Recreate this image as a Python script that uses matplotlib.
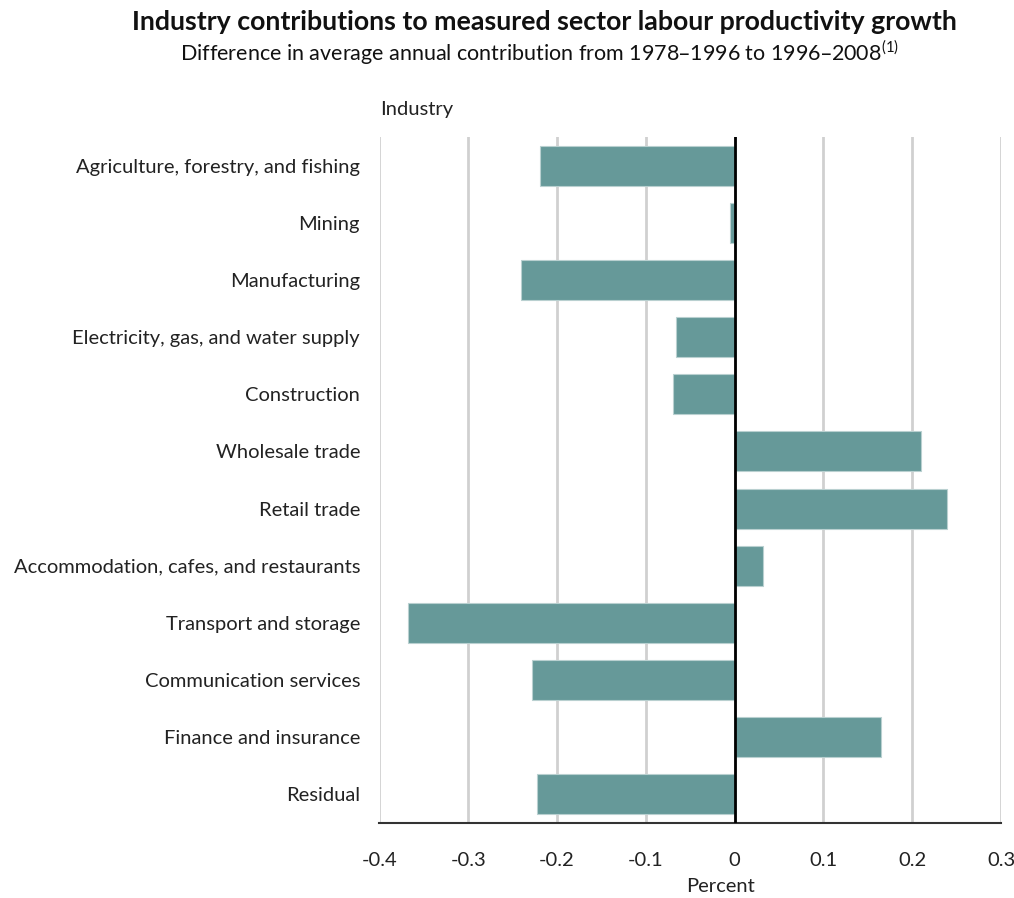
import numpy as np
import matplotlib.pyplot as plt

plt.rcParams['font.family'] = ['Lato', 'DejaVu Sans']

industries = [
    'Agriculture, forestry, and fishing',
    'Mining',
    'Manufacturing',
    'Electricity, gas, and water supply',
    'Construction',
    'Wholesale trade',
    'Retail trade',
    'Accommodation, cafes, and restaurants',
    'Transport and storage',
    'Communication services',
    'Finance and insurance',
    'Residual',
]
contrib = [-0.219, -0.005, -0.241, -0.066, -0.069, 0.210, 0.239, 0.032,
           -0.368, -0.228, 0.165, -0.223]
xticks = [-0.4, -0.3, -0.2, -0.1, 0, 0.1, 0.2, 0.3]
xticklabels = ['-0.4', '-0.3', '-0.2', '-0.1', '0', '0.1', '0.2', '0.3']

fig = plt.figure(figsize=(10.14, 8.98), dpi=100)
ax = fig.add_axes([379.5 / 1014, 1 - 823 / 898, (1001 - 379.5) / 1014, (823 - 137) / 898])

y = np.arange(len(industries))
ax.barh(y, contrib, height=0.7, color='#669999', edgecolor='#b9d0d0', linewidth=0.8, zorder=3)

ax.set_xlim(-0.4, 0.3)
ax.set_ylim(len(industries) - 0.5, -0.5)
ax.set_xticks(xticks)
ax.set_xticklabels(xticklabels, fontsize=14.5)
ax.set_yticks(y)
ax.set_yticklabels(industries, fontsize=14.5)
ax.tick_params(axis='both', length=0, colors='#222222')
ax.tick_params(axis='x', pad=21)
ax.tick_params(axis='y', pad=14)

# vertical gridlines and the zero line
ax.grid(axis='x', color='#d0d0d0', linewidth=2, zorder=0)
ax.axvline(0, color='black', linewidth=2, zorder=4)

for s in ['top', 'left', 'right']:
    ax.spines[s].set_visible(False)
ax.spines['bottom'].set_color('#333333')
ax.spines['bottom'].set_linewidth(1.5)

# axis titles
fig.text(720 / 1014, 1 - 887 / 898, 'Percent', fontsize=14.5, color='#222222', ha='center', va='center')
fig.text(380 / 1014, 1 - 109 / 898, 'Industry', fontsize=14.5, color='#222222', va='center')

fig.text(544 / 1014, 1 - 22 / 898, 'Industry contributions to measured sector labour productivity growth',
         fontsize=19.3, fontweight='bold', ha='center', va='center', color='#111111')
fig.text(540 / 1014, 1 - 53 / 898,
         'Difference in average annual contribution from 1978\u20131996 to 1996\u20132008$^{\\mathregular{(1)}}$',
         fontsize=15.5, ha='center', va='center', color='#111111')

fig.savefig('out.png', dpi=100)
